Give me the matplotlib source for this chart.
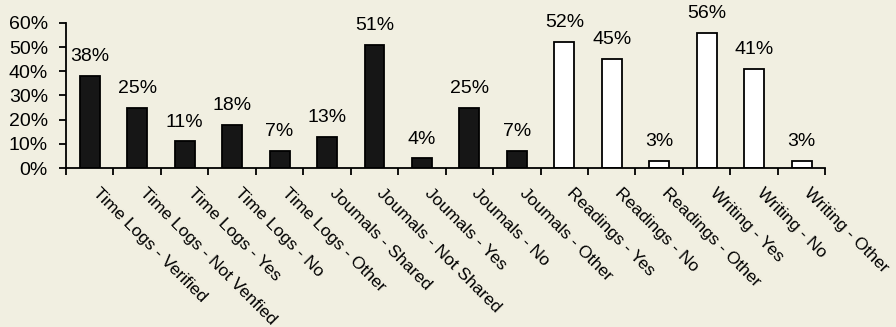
import matplotlib.pyplot as plt
import numpy as np

plt.rcParams['font.family'] = ['Liberation Sans', 'DejaVu Sans']

categories = [
    "Time Logs - Verified", "Time Logs - Not Venfied", "Time Logs - Yes",
    "Time Logs - No", "Time Logs - Other", "Joumals - Shared",
    "Joumals - Not Shared", "Joumals - Yes", "Joumals - No",
    "Joumals - Other", "Readings - Yes", "Readings - No",
    "Readings - Other", "Writing - Yes", "Writing - No", "Writing - Other",
]
values = [38, 25, 11, 18, 7, 13, 51, 4, 25, 7, 52, 45, 3, 56, 41, 3]
filled = [True] * 10 + [False] * 6

bg = "#f1efe1"
fig = plt.figure(figsize=(8.96, 3.27), dpi=100, facecolor=bg)
ax = fig.add_axes([0.0737, 0.486, 0.8474, 0.444], facecolor=bg)

x = np.arange(len(categories))
for xi, v, f in zip(x, values, filled):
    ax.bar(xi, v / 100, width=0.42, color="#161616" if f else "white",
           edgecolor="black", linewidth=1.3)
    ax.text(xi, v / 100 + 0.045, f"{v}%", ha="center", va="bottom", fontsize=14)

ax.set_xlim(-0.5, len(categories) - 0.5)
ax.set_ylim(0, 0.6)
ticks = np.arange(0, 0.61, 0.1)
ax.set_yticks(ticks)
ax.set_yticklabels([f"{round(t * 100)}%" for t in ticks], fontsize=14)
ax.set_xticks(np.arange(-0.5, len(categories), 1.0))
ax.set_xticklabels([])
ax.tick_params(axis="both", direction="out", length=5, width=1.3, color="black")
ax.tick_params(axis="y", pad=8)

for xi, lab in zip(x, categories):
    ax.text(xi + 0.22, -0.07, lab, rotation=-45, rotation_mode="anchor",
            ha="left", va="top", fontsize=12.5, clip_on=False)

for s in ["top", "right"]:
    ax.spines[s].set_visible(False)
for s in ["left", "bottom"]:
    ax.spines[s].set_linewidth(1.3)

fig.savefig("out.png", dpi=100, facecolor=bg)
